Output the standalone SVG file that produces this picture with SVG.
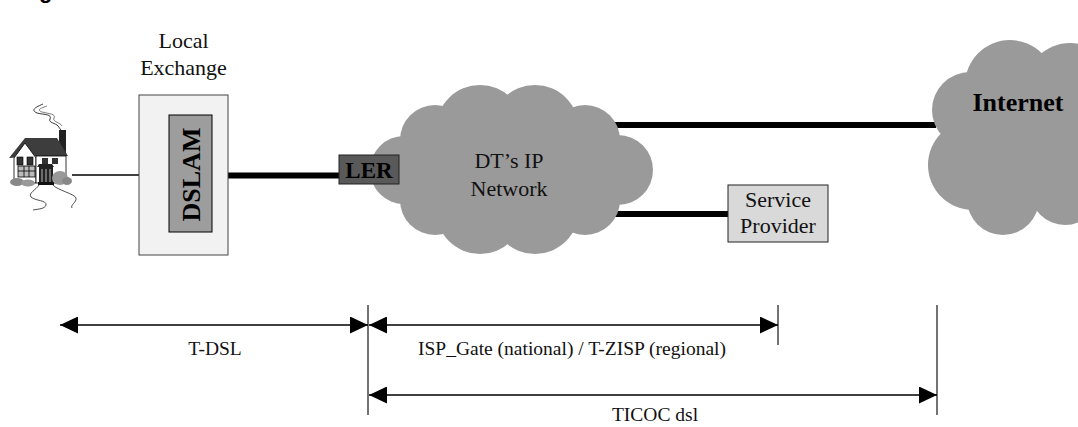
<svg xmlns="http://www.w3.org/2000/svg" width="1078" height="427" viewBox="0 0 1078 427">
  <style>
    .serif { font-family: "Liberation Serif", "Times New Roman", serif; }
    .lbl { font-size: 22px; fill: #111; text-anchor: middle; }
    .bold { font-weight: bold; }
    .dim { font-size: 19.5px; fill: #111; text-anchor: middle; }
    .cloud { fill: #9a9a9a; }
    .thick { stroke: #000; stroke-width: 6; fill: none; }
    .thin { stroke: #000; stroke-width: 1.3; fill: none; }
    .span { stroke: #000; stroke-width: 1.5; fill: none; marker-start: url(#head); marker-end: url(#head); }
    .tick { stroke: #444; stroke-width: 1.5; fill: none; }
    .hl { stroke: #000; stroke-width: 0.8; }
  </style>
  <defs>
    <marker id="head" viewBox="0 0 18 17" refX="18" refY="8.5" markerWidth="18" markerHeight="17" markerUnits="userSpaceOnUse" orient="auto-start-reverse">
      <path d="M0,0 L18,8.5 L0,17 z" fill="#000"/>
    </marker>
  </defs>

  <rect width="1078" height="427" fill="#fff"/>

  <!-- heading fragment at the top edge -->
  <text x="39" y="-2" font-family="Liberation Sans, Arial, sans-serif" font-size="22" font-weight="bold" fill="#000">g</text>

  <!-- connectors -->
  <g id="connectors">
    <line class="thin" x1="72" y1="175" x2="169" y2="175"/>
    <line class="thick" x1="212" y1="175.5" x2="339" y2="175.5"/>
    <line class="thick" x1="600" y1="125" x2="936" y2="125"/>
    <line class="thick" x1="600" y1="214" x2="728" y2="214"/>
  </g>

  <!-- subscriber home -->
  <g id="home">
    <!-- smoke -->
    <path d="M43,104 C36,107 30,110 37,113 C45,115 52,114 50,119 C48,123 56,123 58,126 L61,130" fill="none" stroke="#222" stroke-width="0.9"/>
    <path d="M47,106 C41,108 36,110 42,112 C50,114 56,114 54,118 C52,122 60,122 62,126" fill="none" stroke="#444" stroke-width="0.7"/>
    <!-- chimney -->
    <rect x="59" y="130" width="7" height="25" fill="#222"/>
    <!-- roof -->
    <polygon points="9,158 25,138 57,138 68,156 38,156" fill="#3d3d3d"/>
    <!-- walls -->
    <polygon points="14,158 25,143 36,158 36,183 14,183" fill="#fff" stroke="#000" stroke-width="0.8"/>
    <rect x="36" y="156" width="30" height="27" fill="#fff" stroke="#000" stroke-width="0.8"/>
    <!-- upper windows -->
    <rect x="17" y="157" width="6" height="8" fill="#333" stroke="#000" stroke-width="0.6"/>
    <rect x="27" y="157" width="6" height="8" fill="#333" stroke="#000" stroke-width="0.6"/>
    <rect x="42" y="158" width="6" height="6" fill="#333"/>
    <rect x="52" y="158" width="6" height="6" fill="#333"/>
    <!-- bay window -->
    <rect x="18" y="166" width="17" height="11" fill="#bbb" stroke="#000" stroke-width="0.8"/>
    <line class="hl" x1="18" y1="171" x2="35" y2="171"/>
    <line class="hl" x1="24" y1="166" x2="24" y2="177"/>
    <line class="hl" x1="29" y1="166" x2="29" y2="177"/>
    <!-- porch and door -->
    <polygon points="37,167 54,167 52,164 39,164" fill="#222"/>
    <rect x="39" y="167" width="14" height="16" fill="#222"/>
    <line x1="42" y1="169" x2="42" y2="182" stroke="#ddd" stroke-width="0.8"/>
    <line x1="46" y1="169" x2="46" y2="182" stroke="#ddd" stroke-width="0.8"/>
    <line x1="50" y1="169" x2="50" y2="182" stroke="#ddd" stroke-width="0.8"/>
    <rect x="38" y="182" width="16" height="3" fill="#111"/>
    <!-- shrubs -->
    <ellipse cx="17" cy="182" rx="7" ry="4" fill="#888"/>
    <ellipse cx="28" cy="183" rx="7" ry="3.5" fill="#999"/>
    <ellipse cx="60" cy="178" rx="8" ry="7" fill="#999"/>
    <ellipse cx="67" cy="181" rx="5" ry="4" fill="#888"/>
    <!-- garden path -->
    <path d="M39,185 C36,190 28,193 31,197 C35,201 47,200 46,205 C45,209 38,209 33,210" fill="none" stroke="#222" stroke-width="0.8"/>
    <path d="M53,185 C57,190 75,194 76,198 C77,202 70,205 72,208" fill="none" stroke="#222" stroke-width="0.8"/>
  </g>

  <!-- local exchange with DSLAM -->
  <g id="local-exchange">
    <text class="serif lbl" x="183.5" y="48">Local</text>
    <text class="serif lbl" x="183.5" y="75">Exchange</text>
    <rect x="139" y="95" width="89" height="160" fill="#f2f2f2" stroke="#444" stroke-width="1"/>
  </g>
  <g id="dslam">
    <rect x="169" y="115" width="43" height="117" fill="#9d9d9d" stroke="#000" stroke-width="1"/>
    <text class="serif bold" x="0" y="0" font-size="26" fill="#000" text-anchor="middle" transform="translate(200,174.5) rotate(-90)">DSLAM</text>
  </g>

  <!-- carrier IP network cloud -->
  <g id="ip-network">
    <g class="cloud">
      <circle cx="480" cy="129" r="44"/>
      <circle cx="535" cy="129" r="44"/>
      <circle cx="480" cy="210" r="44"/>
      <circle cx="535" cy="210" r="44"/>
      <circle cx="435" cy="140" r="35"/>
      <circle cx="585" cy="140" r="35"/>
      <circle cx="435" cy="200" r="35"/>
      <circle cx="585" cy="200" r="35"/>
      <circle cx="404" cy="170" r="34"/>
      <circle cx="618" cy="170" r="35"/>
      <rect x="420" y="125" width="180" height="90"/>
    </g>
    <text class="serif lbl" x="509" y="168">DT’s IP</text>
    <text class="serif lbl" x="509" y="196">Network</text>
  </g>

  <!-- label edge router -->
  <g id="ler">
    <rect x="339" y="155" width="60" height="29" fill="#595959" stroke="#222" stroke-width="1"/>
    <text class="serif bold" x="369" y="177.5" font-size="23" fill="#000" text-anchor="middle">LER</text>
  </g>

  <!-- service provider -->
  <g id="service-provider">
    <rect x="728" y="185" width="100" height="57" fill="#d9d9d9" stroke="#222" stroke-width="1"/>
    <text class="serif lbl" x="778" y="207">Service</text>
    <text class="serif lbl" x="778" y="233">Provider</text>
  </g>

  <!-- internet cloud -->
  <g id="internet">
    <g class="cloud">
      <circle cx="970" cy="110" r="38"/>
      <circle cx="973" cy="165" r="45"/>
      <circle cx="1003" cy="199" r="36"/>
      <circle cx="1065" cy="190" r="35"/>
      <circle cx="1010" cy="85" r="45"/>
      <circle cx="1070" cy="88" r="45"/>
      <rect x="965" y="85" width="113" height="120"/>
    </g>
    <text class="serif bold" x="1018" y="111" font-size="26" fill="#000" text-anchor="middle">Internet</text>
  </g>

  <!-- service span dimensions -->
  <g id="spans">
    <line class="tick" x1="368" y1="305" x2="368" y2="415"/>
    <line class="tick" x1="778" y1="305" x2="778" y2="345"/>
    <line class="tick" x1="937" y1="305" x2="937" y2="415"/>
    <line class="span" x1="60" y1="325" x2="368" y2="325"/>
    <line class="span" x1="369" y1="325" x2="778" y2="325"/>
    <line class="span" x1="369" y1="395" x2="937" y2="395"/>
    <text class="serif dim" x="215" y="355">T-DSL</text>
    <text class="serif dim" x="572" y="355">ISP_Gate (national) / T-ZISP (regional)</text>
    <text class="serif dim" x="655" y="421">TICOC dsl</text>
  </g>
</svg>
